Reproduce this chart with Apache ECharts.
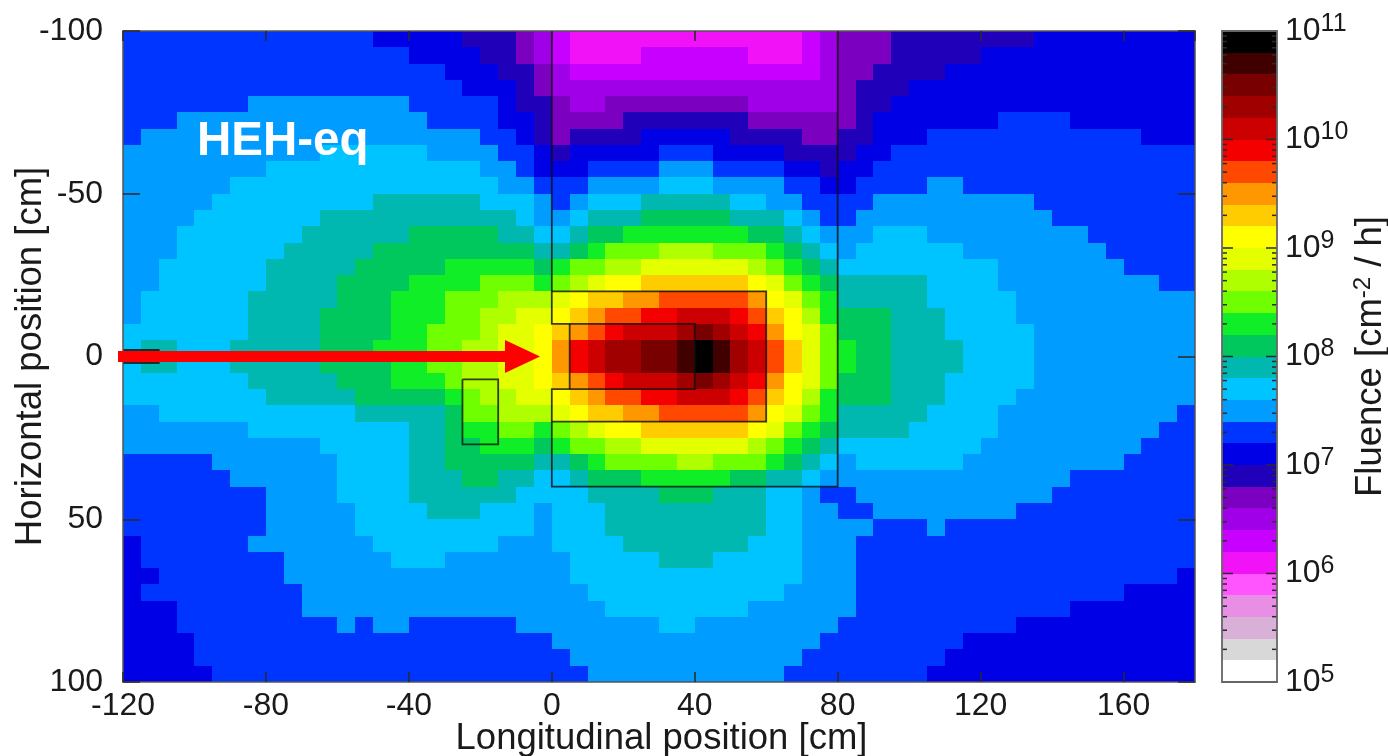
<!DOCTYPE html>
<html><head><meta charset="utf-8">
<style>html,body{margin:0;padding:0;background:#fff}#c{width:1388px;height:756px}</style>
<script src="https://cdn.jsdelivr.net/npm/echarts@6/dist/echarts.min.js"></script>
</head><body><div id="c"></div>
<script>
// Level colours, lowest to highest (30 bands, 5 per decade)
const levelColors = ['#ffffff','#d8d8d8','#d8b0d8','#e88ee4','#ff55ff','#f212f8','#c800ff','#a000e8','#7c00c0','#2000b8',
 '#0000e6','#0034ff','#009cff','#00c4ff','#00b8b0','#00c85c','#10ee28','#70ff00','#b0ff00','#e4ff00',
 '#ffff00','#ffcc00','#ff9800','#ff4800','#f40000','#cc0000','#a00000','#780000','#400000','#000000'];
const levelEdges = [1e5,1.585e5,2.512e5,3.981e5,6.31e5,1e6,1.585e6,2.512e6,3.981e6,6.31e6,1e7,1.585e7,2.512e7,3.981e7,6.31e7,
 1e8,1.585e8,2.512e8,3.981e8,6.31e8,1e9,1.585e9,2.512e9,3.981e9,6.31e9,1e10,1.585e10,2.512e10,3.981e10,6.31e10,1e11];
const colorbarTicksMajor = [1e5,1e6,1e7,1e8,1e9,1e10,1e11];
const colorbarTicksMinor = [2e5,3e5,4e5,5e5,6e5,7e5,8e5,9e5,2e6,3e6,4e6,5e6,6e6,7e6,8e6,9e6,2e7,3e7,4e7,5e7,6e7,7e7,8e7,9e7,
 2e8,3e8,4e8,5e8,6e8,7e8,8e8,9e8,2e9,3e9,4e9,5e9,6e9,7e9,8e9,9e9,2e10,3e10,4e10,5e10,6e10,7e10,8e10,9e10];
// Longitudinal bins start at -120 cm, horizontal bins at -100 cm, 5 cm each
const binSize = 5;
const xStart = -120;
const yStart = -100;
// Each row: run-length tokens, first char = band index (base 30), remainder = number of cells
const fluenceRows = [
"b14 a5 91 92 81 71 61 513 61 71 83 98 a9",
"b16 a4 92 81 71 61 54 66 53 61 71 83 95 a12",
"b18 a2 a1 92 81 71 614 71 82 94 a14",
"b19 a1 a2 91 81 716 81 93 a16",
"b7 c9 b4 b1 a1 92 81 72 88 75 81 92 a17",
"b3 c14 b3 b1 a2 91 84 97 85 81 91 a7 b4 a7",
"b1 c19 b2 a1 91 81 94 a5 94 82 92 a3 b12 a3",
"c11 d6 c3 c1 b2 a1 91 a5 b3 a4 93 91 a2 b17",
"c8 d12 c2 b1 a3 b4 c3 b4 a2 91 a2 b18",
"c6 d14 d1 c2 b3 c4 d3 c4 b2 a1 a1 b4 c2 b13",
"c5 d9 e6 d3 c1 b1 c1 d3 e5 d2 c2 b2 b2 c9 b9",
"c4 d7 e9 e2 d1 c2 d1 e3 f5 e3 d1 c1 b1 b1 c11 b8",
"c3 d7 e6 f4 f1 e2 d2 e1 f2 g7 f2 e1 d1 c1 c2 d3 c9 b6",
"c3 d6 e5 f6 f3 e2 f1 g1 h3 i3 h3 g1 f1 e1 d1 c1 d6 c8 b5",
"c2 d6 e5 f5 g2 g3 f1 g1 h2 i2 j6 i1 h1 g1 f1 e1 d9 c7 b4",
"c2 d6 e4 f4 g4 h3 g1 h1 i1 j1 k2 l6 k1 j1 h1 g1 f1 e5 d4 c9 b2",
"c1 d6 e5 f3 g3 h2 h1 i3 j1 k1 l2 m2 n5 m1 k1 j1 h1 g1 e5 d5 c10",
"c1 d6 e4 f4 g3 h2 i2 j2 k1 l1 m1 n2 o2 p3 o1 n1 l1 k1 i1 g1 f3 e3 d4 c10",
"d7 e4 f4 g2 h3 i1 j2 k1 l1 m1 n1 o1 p3 q1 r1 q1 p1 o1 m1 k1 j1 h1 f3 e3 d5 c9",
"d1 e2 d3 e5 f3 g3 h2 i1 i1 j2 k1 m1 o1 p1 q2 r2 s1 t1 s1 q1 p1 n1 l1 j1 h1 g1 f2 e4 d4 c9",
"d1 e2 d3 e5 f4 g2 h2 i1 i1 j2 k1 m1 o1 p1 q2 r2 s1 t1 s1 q1 p1 n1 l1 j1 h1 g1 f2 e4 d4 c9",
"d7 e5 f3 g3 h1 i1 i1 j2 k1 l1 m1 n1 o1 p3 q1 r1 q1 p1 o1 m1 k1 j1 h1 f3 e3 d5 c9",
"d8 e5 f5 g1 h1 i2 j2 k1 l1 m1 n2 o2 p3 o1 n1 l1 k1 i1 g1 f3 e3 d4 c10",
"c2 d11 e5 f1 h1 h1 i3 j1 k1 l2 m2 n5 m1 k1 j1 h1 g1 e5 d4 c10 b1",
"c7 d9 e2 f1 g1 g1 h2 g1 h1 i1 j1 k2 l6 k1 j1 h1 g1 f1 e4 d5 c9 b2",
"c11 d5 e2 f2 g3 f1 g1 h2 i2 j6 i1 h1 g1 f1 e1 d8 c9 b3",
"b5 c7 d4 e2 f2 f3 e2 f1 g1 h4 i2 h3 g1 f1 e1 d1 c1 d6 c9 b4",
"b6 c6 d4 e3 f1 f1 e2 d2 e1 f3 g5 f2 e2 d1 c1 c13 b7",
"b8 c4 d4 e4 e2 d4 e4 f3 e3 d2 c1 b1 b1 c11 b8",
"b8 c5 d4 e3 d3 c1 d3 e9 d2 c2 b2 c8 b10",
"b8 c5 d7 d3 c1 d3 e9 d2 c2 c2 b3 c1 b14",
"a1 b6 c7 d6 d1 c3 d4 e7 d3 c2 c1 b19",
"a1 b8 c6 d3 c2 c5 d5 e3 d5 c2 c1 b19",
"a2 b7 c11 c5 d13 c2 c1 b18 a1",
"a1 b9 c10 c6 d11 c3 c1 b15 a4",
"a3 b7 c10 c7 d8 c5 c1 b12 a7",
"a3 b9 c1 b1 c2 b4 b2 c8 d2 c8 b10 a10",
"a4 b16 b4 c15 b1 b7 a13",
"a4 b16 b5 c13 b2 b6 a14",
"a5 b15 b6 c11 b3 b5 a15"
];
// Detector geometry outlines, in cm (longitudinal, horizontal)
const outlineOuter = [[0,-100],[0,-10],[40,-10],[40,10],[0,10],[0,40],[80,40],[80,-100]];
const outlineMiddle = [[0,-20],[60,-20],[60,20],[0,20]];
const outlineInner = [[5,-10],[5,10]];
const outlineSmallBox = [[-25,7],[-15,7],[-15,27],[-25,27],[-25,7]];
const outlineEntry = [[-120,-2],[-110,-2],[-110,2],[-120,2]];
const outlines = [outlineOuter,outlineMiddle,outlineInner,outlineSmallBox,outlineEntry];

const cells = [];
fluenceRows.forEach((row, r) => {
  let c = 0;
  row.split(' ').forEach(tok => {
    const lev = parseInt(tok[0], 30), n = parseInt(tok.slice(1), 10);
    for (let k = 0; k < n; k++, c++) cells.push([xStart + binSize * c, yStart + binSize * r, lev]);
  });
});

const FONT = '"Liberation Sans", Arial, sans-serif';
const AXC = '#2a2a2a';
const chart = echarts.init(document.getElementById('c'), null, {renderer:'canvas'});
const tickLab = {fontFamily:FONT,fontSize:32,color:'#1a1a1a'};
const mainX = {min:-120,max:180,interval:40,z:10,axisLine:{onZero:false,lineStyle:{color:'#555',width:1.5}},axisTick:{inside:true,length:10,lineStyle:{color:AXC,width:1.5}},splitLine:{show:false}};
const mainY = {min:-100,max:100,interval:50,inverse:true,z:10,axisLine:{onZero:false,lineStyle:{color:'#555',width:1.5}},axisTick:{inside:true,length:17,lineStyle:{color:AXC,width:1.5}},splitLine:{show:false}};
chart.setOption({
  animation:false,
  backgroundColor:'#fff',
  grid:[
    {left:123,top:31,width:1072,height:651,containLabel:false,outerBoundsMode:'none'},
    {left:1222,top:31,width:55,height:651,containLabel:false,outerBoundsMode:'none'}
  ],
  xAxis:[
    Object.assign({type:'value',gridIndex:0,position:'bottom',name:'Longitudinal position [cm]',nameLocation:'middle',nameGap:38,nameMoveOverlap:false,
      nameTextStyle:{fontFamily:FONT,fontSize:36.5,color:'#1a1a1a',padding:[0,0,0,5]},axisLabel:Object.assign({margin:8,showMaxLabel:false},tickLab)},mainX),
    Object.assign({type:'value',gridIndex:0,position:'top',axisLabel:{show:false}},mainX),
    {type:'value',gridIndex:1,min:0,max:1,show:false}
  ],
  yAxis:[
    Object.assign({type:'value',gridIndex:0,position:'left',name:'Horizontal position [cm]',nameLocation:'middle',nameGap:74,nameRotate:90,nameMoveOverlap:false,
      nameTextStyle:{fontFamily:FONT,fontSize:36.5,color:'#1a1a1a'},axisLabel:Object.assign({margin:20},tickLab)},mainY),
    Object.assign({type:'value',gridIndex:0,position:'right',axisLabel:{show:false}},mainY),
    {type:'log',logBase:10,gridIndex:1,position:'right',min:1e5,max:1e11,interval:1,splitNumber:6,
      axisLine:{show:false},axisTick:{show:false},splitLine:{show:false},minorTick:{show:false},
      name:'{b|Fluence [cm}{s|-2}{b| / h]}',nameLocation:'middle',nameGap:74,nameRotate:90,nameMoveOverlap:false,
      nameTextStyle:{rich:{b:{fontFamily:FONT,fontSize:36.5,color:'#1a1a1a'},s:{fontFamily:FONT,fontSize:24,color:'#1a1a1a',verticalAlign:'bottom',padding:[0,0,16,0]}}},
      axisLabel:{margin:8,formatter:v=>'{b|10}{s|'+Math.round(Math.log10(v))+'}',
        rich:{b:{fontFamily:FONT,fontSize:32,color:'#1a1a1a'},s:{fontFamily:FONT,fontSize:25,color:'#1a1a1a',verticalAlign:'bottom',padding:[0,0,14,0]}}}}
  ],
  series:[
    {type:'custom',name:'Fluence',xAxisIndex:0,yAxisIndex:0,data:cells,encode:{x:0,y:1},clip:true,z:2,silent:true,
      renderItem(params,api){
        const x=api.value(0),y=api.value(1),col=levelColors[api.value(2)];
        const p0=api.coord([x,y]),p1=api.coord([x+binSize,y+binSize]);
        const x0=Math.round(p0[0]),y0=Math.round(p0[1]),x1=Math.round(p1[0]),y1=Math.round(p1[1]);
        return {type:'rect',shape:{x:x0,y:y0,width:x1-x0,height:y1-y0},style:{fill:col}};
      }},
    {type:'custom',name:'Geometry',xAxisIndex:0,yAxisIndex:0,data:outlines.map((o,i)=>[o[0][0],o[0][1],i]),encode:{x:0,y:1},clip:true,z:3,silent:true,
      renderItem(params,api){
        const pts=outlines[api.value(2)].map(p=>api.coord(p));
        return {type:'polyline',shape:{points:pts},style:{fill:null,stroke:'rgba(15,15,15,0.8)',lineWidth:1.8}};
      }},
    {type:'custom',name:'Scale',xAxisIndex:2,yAxisIndex:2,data:levelEdges.slice(0,-1).map((e,i)=>[0,e,i]),encode:{x:0,y:1},z:2,silent:true,
      renderItem(params,api){
        const i=api.value(2),col=levelColors[i];
        const p0=api.coord([0,levelEdges[i+1]]),p1=api.coord([1,levelEdges[i]]);
        const y0=Math.round(p0[1]),y1=Math.round(p1[1]);
        return {type:'rect',shape:{x:p0[0],y:y0,width:p1[0]-p0[0],height:y1-y0},style:{fill:col}};
      }},
    {type:'custom',name:'ScaleTicks',xAxisIndex:2,yAxisIndex:2,
      data:colorbarTicksMajor.map(v=>[0,v,11]).concat(colorbarTicksMinor.map(v=>[0,v,5])),encode:{x:0,y:1},z:4,silent:true,
      renderItem(params,api){
        const v=api.value(1),len=api.value(2);
        const a=api.coord([0,v]),b=api.coord([1,v]);
        return {type:'group',children:[
          {type:'line',shape:{x1:a[0],y1:a[1],x2:a[0]+len,y2:a[1]},style:{stroke:AXC,lineWidth:1.5}},
          {type:'line',shape:{x1:b[0]-len,y1:b[1],x2:b[0],y2:b[1]},style:{stroke:AXC,lineWidth:1.5}}]};
      }},
    {type:'custom',name:'ScaleFrame',xAxisIndex:2,yAxisIndex:2,data:[[0,1e5]],encode:{x:0,y:1},z:5,silent:true,
      renderItem(params,api){
        const p0=api.coord([0,1e11]),p1=api.coord([1,1e5]);
        return {type:'rect',shape:{x:p0[0],y:p0[1],width:p1[0]-p0[0],height:p1[1]-p0[1]},style:{fill:null,stroke:'#666',lineWidth:1.8}};
      }}
  ],
  graphic:[
    {type:'text',z:20,left:197,top:118,style:{text:'HEH-eq',fontFamily:FONT,fontWeight:'bold',fontSize:47.5,fill:'#fff'}},
    {type:'polygon',z:20,shape:{points:[[118,351],[505,351],[505,340],[540,356.5],[505,373],[505,362],[118,362]]},style:{fill:'#ff0000'}}
  ]
});
</script></body></html>
